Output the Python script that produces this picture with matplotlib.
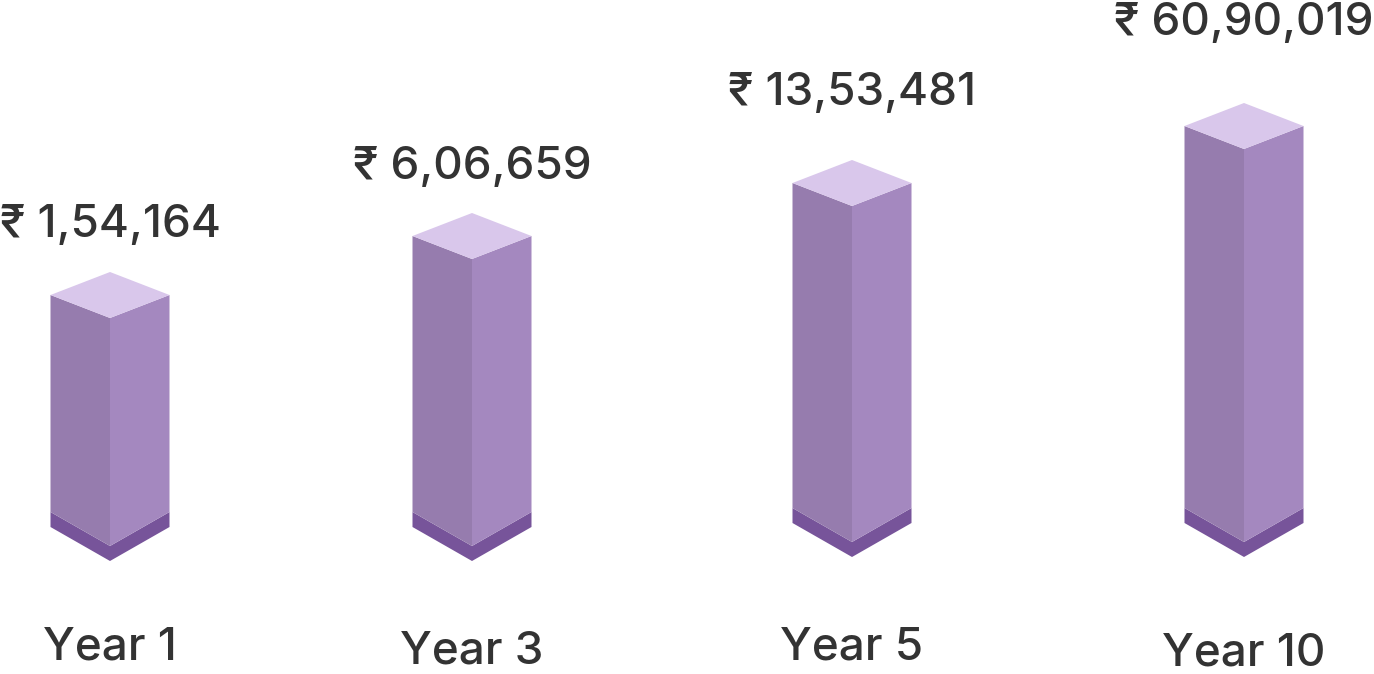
import matplotlib
matplotlib.use("Agg")
import matplotlib.pyplot as plt
from matplotlib.patches import Polygon

# ---- data ----
categories = ["Year 1", "Year 3", "Year 5", "Year 10"]
values = [154164, 606659, 1353481, 6090019]
value_labels = ["₹ 1,54,164", "₹ 6,06,659", "₹ 13,53,481", "₹ 60,90,019"]
# visual (decorative) bar extents, in canvas units (y up)
bar_base = [162, 162, 166, 166]
bar_top = [379, 438, 491, 548]

# ---- layout ----
x_centers = [110, 472, 852, 1244]
half_w = 59.5
top_d = 23      # isometric offset of the top diamond
bot_d = 34      # offset of the bottom V
band = 15       # thickness of the dark base band
label_y = [437, 495, 569, 639]
cat_y = [14, 10, 15, 9]

C_TOP = "#D9C7EB"
C_LEFT = "#967CAE"
C_RIGHT = "#A488BF"
C_DARK = "#77549A"
TXT = "#333333"

plt.rcParams['font.family'] = ['Inter', 'DejaVu Sans']

fig = plt.figure(figsize=(13.74, 6.74), dpi=100)
ax = fig.add_axes([0, 0, 1, 1])
ax.set_xlim(0, 1374)
ax.set_ylim(0, 674)
ax.axis('off')

for xc, B, T, lab, cat, ly, cy in zip(x_centers, bar_base, bar_top, value_labels,
                                      categories, label_y, cat_y):
    xl, xr = xc - half_w, xc + half_w
    # dark base band
    ax.add_patch(Polygon([(xl, B), (xc, B - bot_d), (xr, B), (xr, B - band),
                          (xc, B - bot_d - band), (xl, B - band)],
                         closed=True, facecolor=C_DARK, edgecolor='none'))
    # left face
    ax.add_patch(Polygon([(xl, B), (xl, T), (xc, T - top_d), (xc, B - bot_d)],
                         closed=True, facecolor=C_LEFT, edgecolor='none'))
    # right face
    ax.add_patch(Polygon([(xc, B - bot_d), (xc, T - top_d), (xr, T), (xr, B)],
                         closed=True, facecolor=C_RIGHT, edgecolor='none'))
    # top face
    ax.add_patch(Polygon([(xl, T), (xc, T + top_d), (xr, T), (xc, T - top_d)],
                         closed=True, facecolor=C_TOP, edgecolor='none'))
    ax.text(xc, ly, lab, ha='center', va='baseline', fontsize=33,
            fontweight='medium', color=TXT)
    ax.text(xc, cy, cat, ha='center', va='baseline', fontsize=33,
            fontweight='medium', color=TXT)

fig.savefig("out.png", dpi=100)
